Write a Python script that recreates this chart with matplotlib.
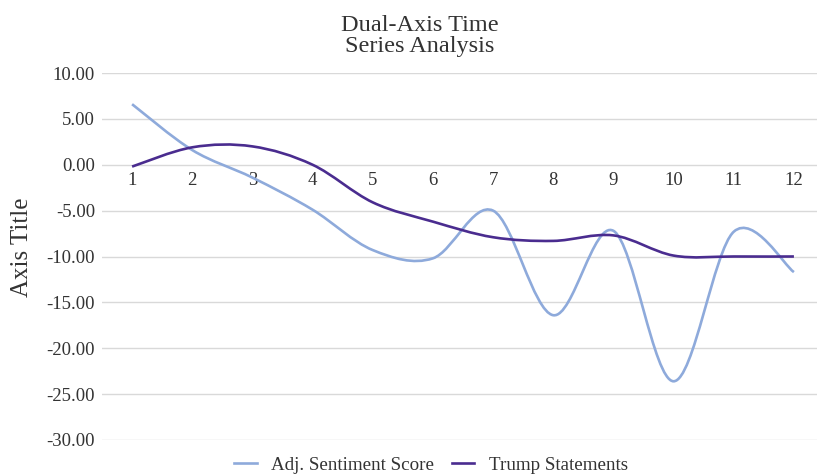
import numpy as np
from matplotlib import pyplot as plt
from matplotlib.path import Path
from matplotlib.patches import PathPatch
from matplotlib.lines import Line2D

# data
periods = [1, 2, 3, 4, 5, 6, 7, 8, 9, 10, 11, 12]
sentiment = [6.6, 1.6, -1.4, -4.9, -9.3, -10.2, -5.0, -16.4, -7.2, -23.6, -7.3, -11.7]
trump = [-0.2, 1.9, 2.0, 0.0, -4.1, -6.2, -7.9, -8.3, -7.7, -9.9, -10.0, -10.0]

blue = '#8eaadb'
purple = '#4a2c8f'

plt.rcParams['font.family'] = ['Liberation Serif', 'DejaVu Serif']


def smooth_path(xs, ys):
    # Catmull-Rom style bezier, like Excel's smoothed line
    pts = np.column_stack([xs, ys]).astype(float)
    n = len(pts)
    verts = [pts[0]]
    codes = [Path.MOVETO]
    for i in range(n - 1):
        p0 = pts[i - 1] if i > 0 else pts[i]
        p1 = pts[i]
        p2 = pts[i + 1]
        p3 = pts[i + 2] if i + 2 < n else pts[i + 1]
        c1 = p1 + (p2 - p0) / 6
        c2 = p2 - (p3 - p1) / 6
        verts += [c1, c2, p2]
        codes += [Path.CURVE4] * 3
    return Path(verts, codes)


fig = plt.figure(figsize=(8.17, 4.75), dpi=100)
ax = fig.add_axes([102 / 817, 1 - 440 / 475, 722 / 817, 367 / 475])

ax.set_xlim(0.5, 12.5)
ax.set_ylim(-30, 10)
ax.set_yticks(np.arange(-30, 11, 5))
ax.yaxis.set_major_formatter(plt.FuncFormatter(lambda v, p: '%.2f' % v))
ax.grid(axis='y', color='#d9d9d9', linewidth=1)
ax.set_axisbelow(True)

for s in ['top', 'right', 'left']:
    ax.spines[s].set_visible(False)
ax.spines['bottom'].set_position(('data', 0))
ax.spines['bottom'].set_visible(False)
ax.set_xticks(periods)
ax.set_xticklabels([str(p) for p in periods])
ax.tick_params(axis='x', length=0, pad=5, labelsize=13.5, labelcolor='#333333')
ax.tick_params(axis='y', length=0, pad=5, labelsize=13.5, labelcolor='#333333')

for ys, c in [(sentiment, blue), (trump, purple)]:
    ax.add_patch(PathPatch(smooth_path(periods, ys), facecolor='none',
                           edgecolor=c, linewidth=1.9, capstyle='butt'))

fig.text(420 / 817, 1 - 36 / 475, 'Dual-Axis Time\nSeries Analysis', ha='center',
         va='center', fontsize=17.5, color='#333333', linespacing=1.0)
fig.text(22 / 817, 1 - 247 / 475, 'Axis Title', rotation=90, ha='center',
         va='center', fontsize=18, color='#333333')

handles = [Line2D([], [], color=blue, lw=1.9), Line2D([], [], color=purple, lw=1.9)]
fig.legend(handles, ['Adj. Sentiment Score', 'Trump Statements'], loc='center',
           bbox_to_anchor=(431 / 817, 1 - 465 / 475), ncol=2, frameon=False,
           fontsize=13.7, handlelength=1.2, columnspacing=0.9, handletextpad=0.75,
           labelcolor='#333333')

plt.savefig('out.png', dpi=100)
